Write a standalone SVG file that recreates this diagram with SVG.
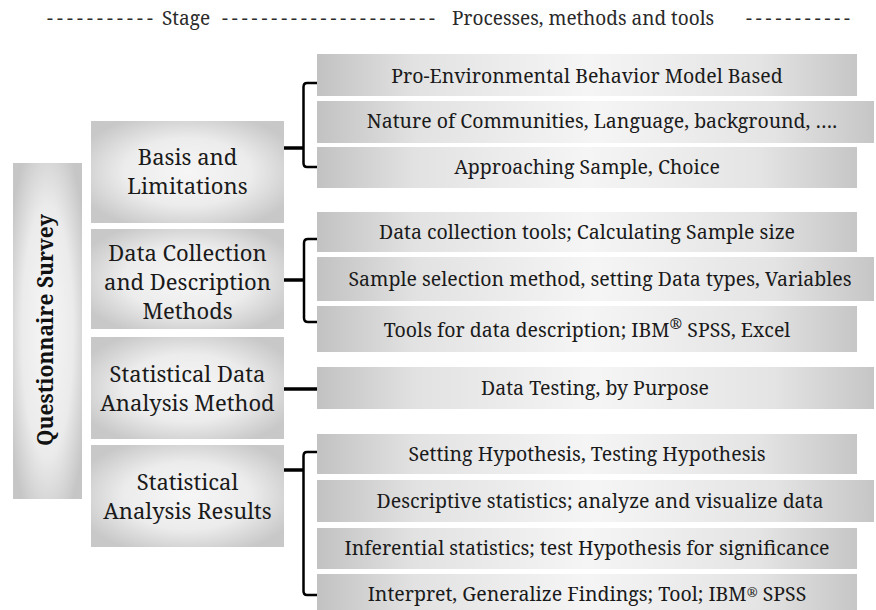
<svg xmlns="http://www.w3.org/2000/svg" width="876" height="610" viewBox="0 0 876 610" font-family="'Noto Serif', 'Liberation Serif', serif">
  <defs>
    <linearGradient id="procFill" x1="0" y1="0" x2="1" y2="0">
      <stop offset="0" stop-color="#c2c2c2"/>
      <stop offset="0.18" stop-color="#e2e2e2"/>
      <stop offset="0.5" stop-color="#f5f5f5"/>
      <stop offset="0.82" stop-color="#e4e4e4"/>
      <stop offset="1" stop-color="#c6c6c6"/>
    </linearGradient>
    <radialGradient id="stageFill" cx="0.5" cy="0.5" r="0.6">
      <stop offset="0" stop-color="#f6f6f6"/>
      <stop offset="0.55" stop-color="#ececec"/>
      <stop offset="1" stop-color="#c8c8c8"/>
    </radialGradient>
    <radialGradient id="barFill" cx="0.5" cy="0.5" r="0.62">
      <stop offset="0" stop-color="#f6f6f6"/>
      <stop offset="0.6" stop-color="#ebebeb"/>
      <stop offset="1" stop-color="#c6c6c6"/>
    </radialGradient>
    <style>
      .hdr { font-size: 19px; fill: #2a2a2a; }
      .stage rect { fill: url(#stageFill); }
      .proc rect { fill: url(#procFill); }
      .stage text { font-size: 22px; fill: #1a1a1a; text-anchor: middle; }
      .proc text { font-size: 19.5px; fill: #1a1a1a; text-anchor: middle; }
      .bar text { font-size: 21px; font-weight: bold; fill: #111; text-anchor: middle; }
      .stub { stroke: #000; stroke-width: 3.5; fill: none; }
      .brk { stroke: #000; stroke-width: 2.5; fill: none; }
    </style>
  </defs>

  <!-- column headings -->
  <g id="header">
    <text class="hdr" x="47" y="25" textLength="106" lengthAdjust="spacing">-----------</text>
    <text class="hdr" x="162" y="25">Stage</text>
    <text class="hdr" x="222" y="25" textLength="213" lengthAdjust="spacing">----------------------</text>
    <text class="hdr" x="452" y="25">Processes, methods and tools</text>
    <text class="hdr" x="746" y="25" textLength="104" lengthAdjust="spacing">-----------</text>
  </g>

  <!-- vertical title bar -->
  <g id="survey" class="bar">
    <rect x="13" y="163" width="69" height="336" fill="url(#barFill)"/>
    <text transform="translate(53,330) rotate(-90)">Questionnaire Survey</text>
  </g>

  <!-- stages -->
  <g id="stage-basis" class="stage">
    <rect x="91" y="121" width="193" height="102"/>
    <text x="187.5" y="165">Basis and</text>
    <text x="187.5" y="194">Limitations</text>
  </g>
  <g id="stage-collection" class="stage">
    <rect x="91" y="229" width="193" height="100"/>
    <text x="187.5" y="261">Data Collection</text>
    <text x="187.5" y="290">and Description</text>
    <text x="187.5" y="319">Methods</text>
  </g>
  <g id="stage-method" class="stage">
    <rect x="91" y="337" width="193" height="102"/>
    <text x="187.5" y="382">Statistical Data</text>
    <text x="187.5" y="411">Analysis Method</text>
  </g>
  <g id="stage-results" class="stage">
    <rect x="91" y="445" width="193" height="102"/>
    <text x="187.5" y="490">Statistical</text>
    <text x="187.5" y="519">Analysis Results</text>
  </g>

  <!-- processes, methods and tools -->
  <g id="proc-model" class="proc">
    <rect x="317" y="54" width="540" height="42"/>
    <text x="587" y="83">Pro-Environmental Behavior Model Based</text>
  </g>
  <g id="proc-communities" class="proc">
    <rect x="317" y="101" width="557" height="42"/>
    <text x="602" y="128">Nature of Communities, Language, background, ….</text>
  </g>
  <g id="proc-sample" class="proc">
    <rect x="317" y="147" width="540" height="41"/>
    <text x="587" y="174">Approaching Sample, Choice</text>
  </g>
  <g id="proc-collection" class="proc">
    <rect x="317" y="212" width="540" height="40"/>
    <text x="587" y="239">Data collection tools; Calculating Sample size</text>
  </g>
  <g id="proc-selection" class="proc">
    <rect x="317" y="257" width="557" height="44"/>
    <text x="600" y="286">Sample selection method, setting Data types, Variables</text>
  </g>
  <g id="proc-description" class="proc">
    <rect x="317" y="306" width="540" height="46"/>
    <text x="587" y="337">Tools for data description; IBM<tspan font-size="15" baseline-shift="8">®</tspan> SPSS, Excel</text>
  </g>
  <g id="proc-testing" class="proc">
    <rect x="317" y="367" width="557" height="42"/>
    <text x="595" y="395">Data Testing, by Purpose</text>
  </g>
  <g id="proc-hypothesis" class="proc">
    <rect x="317" y="434" width="540" height="40"/>
    <text x="587" y="461">Setting Hypothesis, Testing Hypothesis</text>
  </g>
  <g id="proc-descriptive" class="proc">
    <rect x="317" y="480" width="557" height="42"/>
    <text x="600" y="508">Descriptive statistics; analyze and visualize data</text>
  </g>
  <g id="proc-inferential" class="proc">
    <rect x="317" y="528" width="540" height="41"/>
    <text x="587" y="555">Inferential statistics; test Hypothesis for significance</text>
  </g>
  <g id="proc-interpret" class="proc">
    <rect x="317" y="574" width="540" height="44"/>
    <text x="587" y="601">Interpret, Generalize Findings; Tool; IBM<tspan font-size="13" baseline-shift="4">®</tspan> SPSS</text>
  </g>

  <!-- brackets joining each stage to its processes -->
  <g id="connectors">
    <line class="stub" x1="284" y1="148" x2="304" y2="148"/>
    <path class="brk" d="M317,83 H307 Q303.5,83 303.5,87 V163 Q303.5,167 307,167 H317"/>

    <line class="stub" x1="284" y1="280" x2="304" y2="280"/>
    <path class="brk" d="M317,239 H308 Q304,239 304,243 V318 Q304,322 308,322 H317"/>

    <line class="stub" x1="284" y1="389" x2="317" y2="389"/>

    <line class="stub" x1="284" y1="470" x2="304" y2="470"/>
    <path class="brk" d="M317,452 H307 Q303.5,452 303.5,456 V591 Q303.5,595 307,595 H317"/>
  </g>
</svg>
